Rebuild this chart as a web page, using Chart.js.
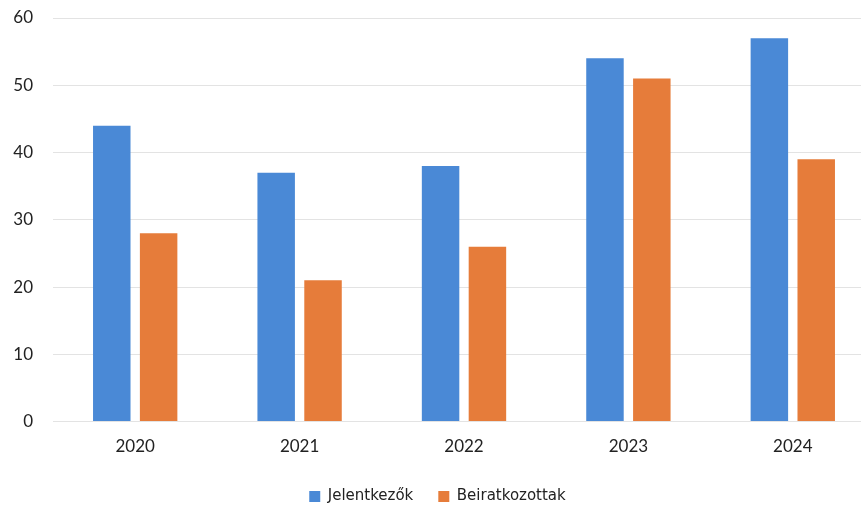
<!DOCTYPE html>
<html>
<head>
<meta charset="utf-8">
<script src="https://cdn.jsdelivr.net/npm/chart.js@4"></script>
<style>
  html, body { margin: 0; padding: 0; background: #fff; overflow: hidden; }
  #wrap { width: 875px; height: 514px; }
</style>
</head>
<body>
<div id="wrap"><canvas id="myChart"></canvas></div>
<script>
// adatok
const years = ['2020', '2021', '2022', '2023', '2024'];
const jelentkezok = [44, 37, 38, 54, 57];
const beiratkozottak = [28, 21, 26, 51, 39];
const yTicks = [0, 10, 20, 30, 40, 50, 60];

const ctx = document.getElementById('myChart');

new Chart(ctx, {
  type: 'bar',
  data: {
    labels: years,
    datasets: [{
      label: 'Jelentkezők',
      data: jelentkezok,
      backgroundColor: '#4a89d6',
      barPercentage: 0.8,
      categoryPercentage: 0.57
    }, {
      label: 'Beiratkozottak',
      data: beiratkozottak,
      backgroundColor: '#e67c3a',
      barPercentage: 0.8,
      categoryPercentage: 0.57
    }]
  },
  options: {
    responsive: true,
    maintainAspectRatio: false,
    animation: false,
    layout: { padding: { top: 3, left: 0, right: 0, bottom: 0 } },
    plugins: {
      tooltip: { enabled: false },
      legend: {
        position: 'bottom',
        labels: {
          boxWidth: 11,
          boxHeight: 11,
          padding: 25,
          color: '#222',
          font: { family: 'DejaVu Sans', size: 15 }
        }
      }
    },
    scales: {
      x: {
        grid: { display: false },
        border: { display: false },
        ticks: { color: '#222', padding: 7, font: { family: 'Lato', size: 17 } }
      },
      y: {
        min: 0,
        max: 60,
        afterBuildTicks: s => { s.ticks = yTicks.map(v => ({ value: v })); },
        afterFit: s => { s.width = 53; s.paddingTop = 18; },
        grid: { color: '#e3e3e3', drawTicks: false },
        border: { display: false },
        ticks: { color: '#222', padding: 20, font: { family: 'Lato', size: 17 } }
      }
    }
  }
});
</script>
</body>
</html>
